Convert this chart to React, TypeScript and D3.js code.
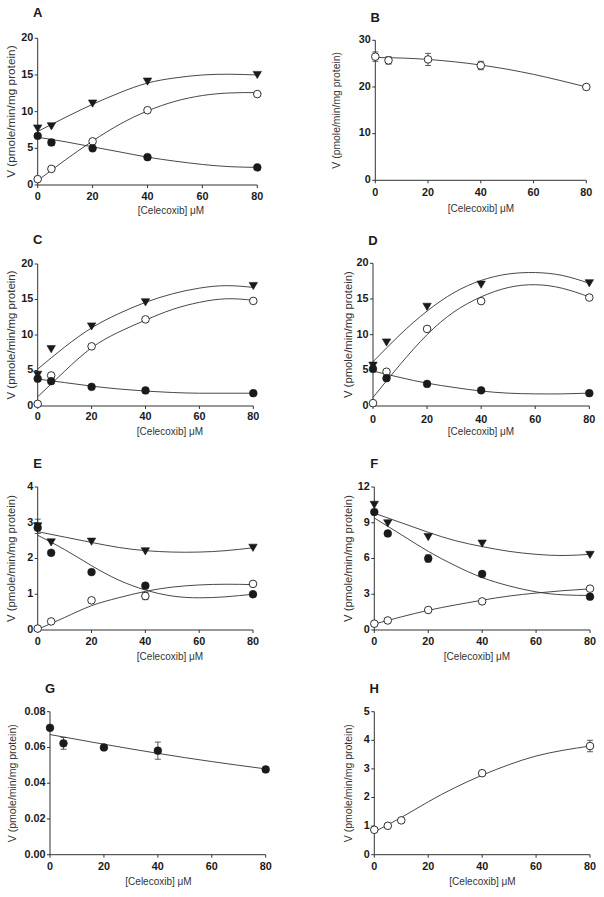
import React from "react";
import * as d3 from "d3";

// ---------- data ----------
const conc = [0, 5, 20, 40, 80];
const concH = [0, 5, 10, 40, 80];
const fitConc = [0, 10, 20, 30, 40, 50, 60, 70, 80];
const xTicks = [0, 20, 40, 60, 80];

// Panel A
const aTriangle = [7.7, 8.0, 11.1, 14.1, 15.0];
const aOpen = [0.8, 2.2, 5.95, 10.2, 12.4];
const aFilled = [6.7, 5.8, 5.0, 3.8, 2.4];
const aFilledErr = [0, 0.4, 0, 0, 0];
const aTriangleFit = [7.3, 9.2, 11.0, 12.6, 13.9, 14.6, 15.0, 15.1, 15.0];
const aOpenFit = [0.6, 3.4, 6.0, 8.3, 10.1, 11.4, 12.2, 12.55, 12.6];
const aFilledFit = [6.5, 5.9, 5.2, 4.5, 3.8, 3.25, 2.8, 2.5, 2.4];

// Panel B
const bOpen = [26.5, 25.7, 25.9, 24.6, 20.0];
const bOpenErr = [1.0, 0.8, 1.3, 0.9, 0.2];
const bOpenFit = [26.3, 26.2, 25.9, 25.4, 24.7, 23.8, 22.7, 21.4, 20.0];

// Panel C
const cTriangle = [4.4, 8.0, 11.2, 14.6, 16.9];
const cOpen = [0.3, 4.3, 8.4, 12.2, 14.8];
const cFilled = [3.85, 3.5, 2.7, 2.2, 1.8];
const cTriangleFit = [5.2, 8.3, 11.0, 13.0, 14.6, 15.8, 16.6, 16.95, 16.7];
const cOpenFit = [1.3, 4.9, 8.2, 10.4, 12.1, 13.6, 14.6, 15.1, 14.9];
const cFilledFit = [3.8, 3.3, 2.8, 2.4, 2.1, 1.9, 1.8, 1.8, 1.8];

// Panel D
const dTriangle = [5.65, 8.9, 13.9, 17.0, 17.2];
const dOpen = [0.4, 4.8, 10.8, 14.7, 15.2];
const dFilled = [5.2, 3.9, 3.1, 2.2, 1.8];
const dTriangleFit = [6.2, 10.0, 13.3, 15.9, 17.6, 18.5, 18.7, 18.3, 17.2];
const dOpenFit = [1.2, 5.8, 10.0, 13.2, 15.3, 16.6, 17.0, 16.5, 15.3];
const dFilledFit = [4.9, 4.0, 3.2, 2.6, 2.1, 1.8, 1.7, 1.7, 1.8];

// Panel E
const eTriangle = [2.9, 2.45, 2.47, 2.2, 2.3];
const eTriangleErr = [0.2, 0, 0, 0, 0];
const eFilled = [2.86, 2.16, 1.62, 1.24, 1.0];
const eOpen = [0.04, 0.24, 0.83, 0.95, 1.29];
const eOpenErr = [0, 0, 0, 0.1, 0];
const eTriangleFit = [2.75, 2.6, 2.45, 2.31, 2.22, 2.18, 2.18, 2.22, 2.3];
const eFilledFit = [2.65, 2.25, 1.8, 1.4, 1.12, 0.95, 0.9, 0.93, 1.0];
const eOpenFit = [0.02, 0.35, 0.68, 0.9, 1.08, 1.2, 1.26, 1.28, 1.27];

// Panel F
const fTriangle = [10.5, 8.95, 7.8, 7.25, 6.3];
const fFilled = [9.9, 8.1, 6.0, 4.7, 2.8];
const fFilledErr = [0, 0, 0.3, 0, 0];
const fOpen = [0.53, 0.8, 1.68, 2.4, 3.47];
const fTriangleFit = [9.8, 9.0, 8.2, 7.5, 7.0, 6.6, 6.35, 6.25, 6.35];
const fFilledFit = [9.4, 8.0, 6.6, 5.4, 4.4, 3.7, 3.2, 2.95, 2.9];
const fOpenFit = [0.5, 1.1, 1.65, 2.1, 2.5, 2.85, 3.1, 3.3, 3.45];

// Panel G
const gFilled = [0.071, 0.0623, 0.060, 0.0582, 0.0477];
const gFilledErr = [0, 0.0033, 0, 0.0048, 0];
const gFilledFit = [0.0672, 0.0645, 0.0618, 0.0592, 0.0567, 0.0543, 0.0521, 0.05, 0.048];

// Panel H
const hOpen = [0.87, 1.01, 1.2, 2.85, 3.8];
const hOpenErr = [0, 0, 0, 0, 0.2];
const hOpenFit = [0.8, 1.3, 1.85, 2.35, 2.78, 3.15, 3.45, 3.65, 3.8];

const yLabel = "V (pmole/min/mg protein)";
const xLabel = "[Celecoxib] \u03bcM";

type Kind = "tri" | "open" | "filled";
interface Series { kind: Kind; x: number[]; y: number[]; err?: number[]; fit: number[]; }
interface Panel {
  letter: string;
  x0: number; x1: number; yTop: number; yBot: number;
  yMax: number; yTicks: number[]; fmt: (v: number) => string;
  letterY: number; tickY: number; titleX: number; titleY: number;
  ylabX: number; ylabSize: number;
  series: Series[];
}

const f0 = (v: number) => String(v);
const f2 = (v: number) => v.toFixed(2);

const panels: Panel[] = [
  { letter: "A", x0: 37.7, x1: 257.3, yTop: 38.3, yBot: 185, yMax: 20, yTicks: [0, 5, 10, 15, 20], fmt: f0,
    letterY: 14, tickY: 197, titleX: 171, titleY: 211, ylabX: 12, ylabSize: 11.8,
    series: [
      { kind: "tri", x: conc, y: aTriangle, fit: aTriangleFit },
      { kind: "open", x: conc, y: aOpen, fit: aOpenFit },
      { kind: "filled", x: conc, y: aFilled, err: aFilledErr, fit: aFilledFit },
    ] },
  { letter: "B", x0: 375.3, x1: 586.3, yTop: 40.3, yBot: 180.3, yMax: 30, yTicks: [0, 10, 20, 30], fmt: f0,
    letterY: 18.5, tickY: 193, titleX: 481, titleY: 209, ylabX: 337, ylabSize: 10.4,
    series: [{ kind: "open", x: conc, y: bOpen, err: bOpenErr, fit: bOpenFit }] },
  { letter: "C", x0: 37.7, x1: 253.3, yTop: 264, yBot: 406, yMax: 20, yTicks: [0, 5, 10, 15, 20], fmt: f0,
    letterY: 241, tickY: 417.5, titleX: 170, titleY: 432.5, ylabX: 12, ylabSize: 11.5,
    series: [
      { kind: "tri", x: conc, y: cTriangle, fit: cTriangleFit },
      { kind: "open", x: conc, y: cOpen, fit: cOpenFit },
      { kind: "filled", x: conc, y: cFilled, fit: cFilledFit },
    ] },
  { letter: "D", x0: 373, x1: 589.3, yTop: 263.3, yBot: 406, yMax: 20, yTicks: [0, 5, 10, 15, 20], fmt: f0,
    letterY: 242, tickY: 420, titleX: 481, titleY: 432.5, ylabX: 349, ylabSize: 11.3,
    series: [
      { kind: "tri", x: conc, y: dTriangle, fit: dTriangleFit },
      { kind: "open", x: conc, y: dOpen, fit: dOpenFit },
      { kind: "filled", x: conc, y: dFilled, fit: dFilledFit },
    ] },
  { letter: "E", x0: 37.7, x1: 253, yTop: 487, yBot: 630, yMax: 4, yTicks: [0, 1, 2, 3, 4], fmt: f0,
    letterY: 465, tickY: 642.5, titleX: 170, titleY: 657, ylabX: 12, ylabSize: 11.3,
    series: [
      { kind: "tri", x: conc, y: eTriangle, err: eTriangleErr, fit: eTriangleFit },
      { kind: "filled", x: conc, y: eFilled, fit: eFilledFit },
      { kind: "open", x: conc, y: eOpen, err: eOpenErr, fit: eOpenFit },
    ] },
  { letter: "F", x0: 374.3, x1: 590, yTop: 487, yBot: 630, yMax: 12, yTicks: [0, 3, 6, 9, 12], fmt: f0,
    letterY: 465, tickY: 642.5, titleX: 477, titleY: 657, ylabX: 349, ylabSize: 11.3,
    series: [
      { kind: "tri", x: conc, y: fTriangle, fit: fTriangleFit },
      { kind: "filled", x: conc, y: fFilled, err: fFilledErr, fit: fFilledFit },
      { kind: "open", x: conc, y: fOpen, fit: fOpenFit },
    ] },
  { letter: "G", x0: 50, x1: 265.7, yTop: 711.7, yBot: 854.7, yMax: 0.08, yTicks: [0, 0.02, 0.04, 0.06, 0.08], fmt: f2,
    letterY: 689.5, tickY: 867, titleX: 158.5, titleY: 882, ylabX: 13, ylabSize: 10.5,
    series: [{ kind: "filled", x: conc, y: gFilled, err: gFilledErr, fit: gFilledFit }] },
  { letter: "H", x0: 374.3, x1: 590, yTop: 711.7, yBot: 854.7, yMax: 5, yTicks: [0, 1, 2, 3, 4, 5], fmt: f0,
    letterY: 689.5, tickY: 867, titleX: 482.5, titleY: 882, ylabX: 349, ylabSize: 10.5,
    series: [{ kind: "open", x: concH, y: hOpen, err: hOpenErr, fit: hOpenFit }] },
];

const INK = "#1a1a1a";
const FONT = "'Liberation Sans', Arial, sans-serif";

function Marker({ kind, cx, cy }: { kind: Kind; cx: number; cy: number }) {
  if (kind === "tri") {
    const w = 4.2, h = 7.2;
    const p = `M${cx - w},${cy - h / 2}L${cx + w},${cy - h / 2}L${cx},${cy + h / 2}Z`;
    return <path d={p} fill={INK} stroke={INK} strokeWidth={0.6} />;
  }
  if (kind === "open") return <circle cx={cx} cy={cy} r={3.8} fill="white" stroke={INK} strokeWidth={0.9} />;
  return <circle cx={cx} cy={cy} r={3.9} fill={INK} stroke={INK} strokeWidth={0.5} />;
}

function PanelView({ p }: { p: Panel }) {
  const x = d3.scaleLinear().domain([0, 80]).range([p.x0, p.x1]);
  const y = d3.scaleLinear().domain([0, p.yMax]).range([p.yBot, p.yTop]);
  const line = d3.line<[number, number]>().x((d) => x(d[0])).y((d) => y(d[1])).curve(d3.curveNatural);
  const midY = (p.yTop + p.yBot) / 2;
  return (
    <g>
      <text x={p.x0} y={p.letterY} textAnchor="middle" dominantBaseline="middle" fontFamily={FONT} fontWeight="bold" fontSize={13} fill={INK}>{p.letter}</text>
      <line x1={p.x0} x2={p.x0} y1={p.yTop} y2={p.yBot} stroke="#333" strokeWidth={1} />
      <line x1={p.x0} x2={p.x1} y1={p.yBot} y2={p.yBot} stroke="#333" strokeWidth={1} />
      {p.yTicks.map((t) => (
        <g key={"y" + t}>
          <line x1={p.x0 - 3} x2={p.x0} y1={y(t)} y2={y(t)} stroke="#333" strokeWidth={1} />
          <text x={p.x0 - 4.5} y={y(t)} textAnchor="end" dominantBaseline="middle" fontFamily={FONT} fontWeight="bold" fontSize={10.8} fill={INK}>{p.fmt(t)}</text>
        </g>
      ))}
      {xTicks.map((t) => (
        <g key={"x" + t}>
          <line x1={x(t)} x2={x(t)} y1={p.yBot} y2={p.yBot + 3} stroke="#333" strokeWidth={1} />
          <text x={x(t)} y={p.tickY} textAnchor="middle" dominantBaseline="middle" fontFamily={FONT} fontWeight="bold" fontSize={10.8} fill={INK}>{t}</text>
        </g>
      ))}
      <text x={p.titleX} y={p.titleY} textAnchor="middle" dominantBaseline="middle" fontFamily={FONT} fontSize={10} fill="#333">{xLabel}</text>
      <text transform={`translate(${p.ylabX},${midY}) rotate(-90)`} textAnchor="middle" dominantBaseline="middle" fontFamily={FONT} fontSize={p.ylabSize} fill="#333">{yLabel}</text>
      {p.series.map((s, i) => (
        <path key={"f" + i} d={line(fitConc.map((c, j) => [c, s.fit[j]] as [number, number])) || ""} fill="none" stroke="#333" strokeWidth={0.9} />
      ))}
      {p.series.map((s, i) =>
        s.err ? s.err.map((e, j) => e > 0 ? (
          <g key={`e${i}-${j}`} stroke="#333" strokeWidth={0.8}>
            <line x1={x(s.x[j])} x2={x(s.x[j])} y1={y(s.y[j] - e)} y2={y(s.y[j] + e)} />
            <line x1={x(s.x[j]) - 3} x2={x(s.x[j]) + 3} y1={y(s.y[j] - e)} y2={y(s.y[j] - e)} />
            <line x1={x(s.x[j]) - 3} x2={x(s.x[j]) + 3} y1={y(s.y[j] + e)} y2={y(s.y[j] + e)} />
          </g>
        ) : null) : null
      )}
      {p.series.map((s, i) => s.x.map((c, j) => <Marker key={`m${i}-${j}`} kind={s.kind} cx={x(c)} cy={y(s.y[j])} />))}
    </g>
  );
}

export default function App() {
  return (
    <svg width={604} height={897} style={{ position: "absolute", left: 0, top: 0, background: "white" }}>
      <rect width={604} height={897} fill="white" />
      {panels.map((p) => <PanelView key={p.letter} p={p} />)}
    </svg>
  );
}
